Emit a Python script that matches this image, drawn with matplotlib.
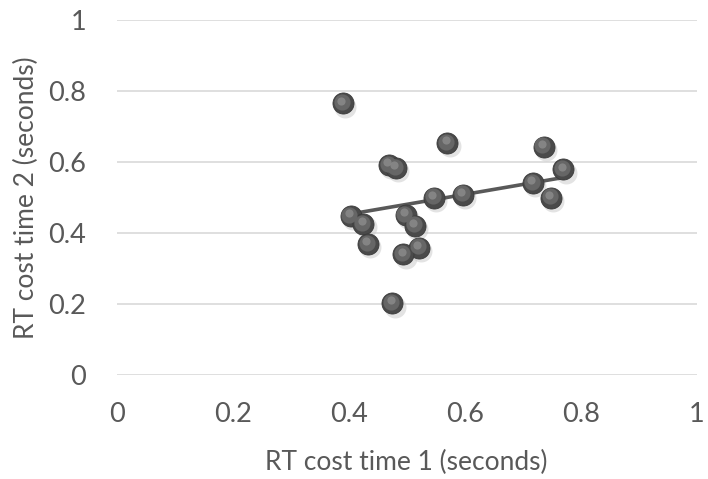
import numpy as np
import matplotlib
matplotlib.use("Agg")
import matplotlib.pyplot as plt

# RT cost per participant
rt_time1 = [0.390, 0.570, 0.469, 0.481, 0.403, 0.425, 0.433, 0.498, 0.514,
            0.521, 0.494, 0.475, 0.547, 0.597, 0.736, 0.770, 0.718, 0.749]
rt_time2 = [0.765, 0.653, 0.591, 0.582, 0.447, 0.425, 0.368, 0.450, 0.420,
            0.358, 0.339, 0.201, 0.499, 0.507, 0.643, 0.579, 0.540, 0.499]
ticks = [0, 0.2, 0.4, 0.6, 0.8, 1]
tick_labels = ["0", "0.2", "0.4", "0.6", "0.8", "1"]

plt.rcParams['font.family'] = ['Lato', 'DejaVu Sans']
txt = '#595959'

fig = plt.figure(figsize=(7.08, 4.79), dpi=100)
ax = fig.add_axes([0.165, 0.218, 0.819, 0.74])

x = np.array(rt_time1)
y = np.array(rt_time2)

# linear trendline over the data range
k, b = np.polyfit(x, y, 1)
xs = np.array([x.min(), x.max()])
ax.plot(xs, k * xs + b, color='#595959', lw=2.6, zorder=3, solid_capstyle='butt')

# sphere-like markers: shadow, body, highlight
ax.scatter(x + 0.004, y - 0.009, s=250, color='#c8c8c8', alpha=0.5, lw=0, zorder=2)
ax.scatter(x, y, s=230, color='#4a4a4a', edgecolors='#3a3a3a', lw=0.6, zorder=4)
ax.scatter(x - 0.002, y + 0.004, s=135, color='#666666', lw=0, zorder=5)
ax.scatter(x - 0.003, y + 0.008, s=35, color='#8c8c8c', alpha=0.8, lw=0, zorder=6)

ax.set_xlim(0, 1)
ax.set_ylim(0, 1)
ax.set_xticks(ticks)
ax.set_xticklabels(tick_labels)
ax.set_yticks(ticks)
ax.set_yticklabels(tick_labels)
ax.grid(axis='y', color='#d9d9d9', lw=1.2)
ax.set_axisbelow(True)
for s in ax.spines.values():
    s.set_visible(False)
ax.tick_params(length=0, labelsize=19.5, colors=txt)
ax.tick_params(axis='x', pad=20)
ax.tick_params(axis='y', pad=22)
ax.set_xlabel("RT cost time 1 (seconds)", fontsize=19, color=txt, labelpad=16)
ax.set_ylabel("RT cost time 2 (seconds)", fontsize=19, color=txt, labelpad=7)

fig.savefig("out.png", dpi=100)
